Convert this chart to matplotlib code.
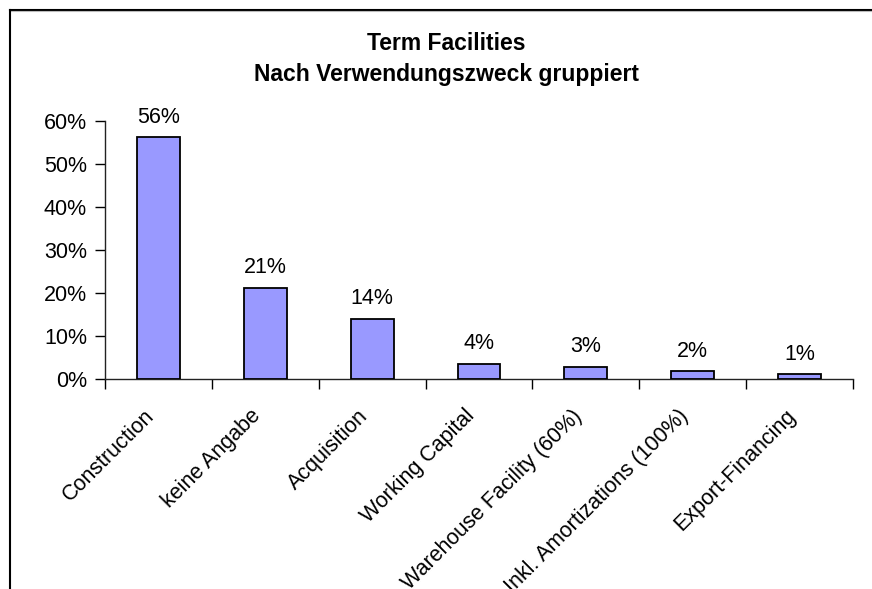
import matplotlib
matplotlib.use("Agg")
import matplotlib.pyplot as plt
from matplotlib.lines import Line2D

# data
categories = ["Construction", "keine Angabe", "Acquisition", "Working Capital",
              "Warehouse Facility (60%)", "Inkl. Amortizations (100%)", "Export-Financing"]
shares = [56.2, 21.2, 14.0, 3.6, 2.8, 1.8, 1.1]
yticks = [0, 10, 20, 30, 40, 50, 60]

plt.rcParams["font.family"] = ["Liberation Sans", "DejaVu Sans"]

fig = plt.figure(figsize=(8.72, 5.89), dpi=100)
W, H = 872, 589
ax = fig.add_axes([105 / W, 1 - 379 / H, (853 - 105) / W, (379 - 121) / H])

x = list(range(len(categories)))
ax.bar(x, shares, width=0.4, color="#9999FF", edgecolor="black", linewidth=1.3, zorder=3)

for xi, v in zip(x, shares):
    ax.annotate(f"{v:.0f}%", (xi, v), xytext=(0, 7), textcoords="offset points",
                ha="center", va="bottom", fontsize=15.5)

ax.set_xlim(-0.5, len(categories) - 0.5)
ax.set_ylim(0, 60)
ax.set_yticks(yticks)
ax.set_yticklabels([f"{t}%" for t in yticks], fontsize=15.5)

# category ticks sit between bars, labels under each bar
ax.set_xticks([i - 0.5 for i in range(len(categories) + 1)])
ax.set_xticklabels([])
ax.set_xticks(x, minor=True)
ax.set_xticklabels(categories, minor=True, rotation=45, ha="right", fontsize=15.5)
ax.tick_params(axis="x", which="minor", length=0, pad=19)
ax.tick_params(axis="x", which="major", length=7, width=1, direction="out")
ax.tick_params(axis="y", length=7, width=1, direction="out", pad=6)

for s in ["top", "right"]:
    ax.spines[s].set_visible(False)
for s in ["left", "bottom"]:
    ax.spines[s].set_color("#222222")
    ax.spines[s].set_linewidth(1)

fig.text(446 / W, 1 - 43 / H, "Term Facilities", ha="center", va="center",
         fontsize=16.5, fontweight="bold")
fig.text(446 / W, 1 - 75 / H, "Nach Verwendungszweck gruppiert", ha="center", va="center",
         fontsize=16.5, fontweight="bold")

# chart frame (cut off at right and bottom)
fig.add_artist(Line2D([9.5 / W, 1], [1 - 9.5 / H, 1 - 9.5 / H], color="black", lw=1.5))
fig.add_artist(Line2D([9.5 / W, 1], [1 - 11 / H, 1 - 11 / H], color="#bbbbbb", lw=0.8))
fig.add_artist(Line2D([9.5 / W, 9.5 / W], [0, 1 - 9.5 / H], color="black", lw=1.5))

fig.savefig("out.png", dpi=100, facecolor="white")
